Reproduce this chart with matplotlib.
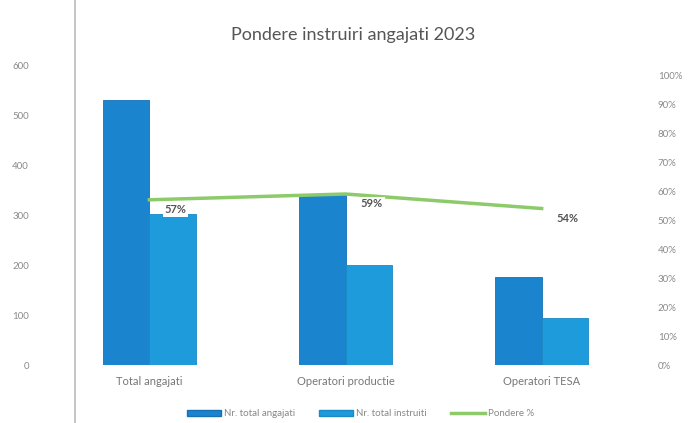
import matplotlib
matplotlib.use("Agg")
import matplotlib.pyplot as plt
from matplotlib.patches import Patch
from matplotlib.lines import Line2D

categories = ["Total angajati", "Operatori productie", "Operatori TESA"]
total_angajati = [530, 340, 176]
total_instruiti = [302, 200, 95]
pondere = [0.57, 0.59, 0.54]
pondere_labels = ["57%", "59%", "54%"]
left_ticks = [0, 100, 200, 300, 400, 500, 600]
right_ticks = [0.0, 0.1, 0.2, 0.3, 0.4, 0.5, 0.6, 0.7, 0.8, 0.9, 1.0]
right_tick_labels = ["0%", "10%", "20%", "30%", "40%", "50%", "60%", "70%", "80%", "90%", "100%"]

plt.rcParams['font.family'] = ['Lato', 'DejaVu Sans']

c1 = "#1a84cf"
c2 = "#1d9bdb"
cl = "#8dca6a"
tc = "#8a8a8a"

fig = plt.figure(figsize=(6.93, 4.23), dpi=100)
fig.add_artist(Line2D([0.108, 0.108], [0, 1], transform=fig.transFigure, color="#bbbbbb", linewidth=1.2))
ax = fig.add_axes([0.108, 0.137, 0.801, 0.709])
x = list(range(len(categories)))
w = 0.238
ax.bar([i - w / 2 for i in x], total_angajati, width=w, color=c1, edgecolor="#1670b5", linewidth=0.6, zorder=2)
ax.bar([i + w / 2 for i in x], total_instruiti, width=w, color=c2, edgecolor="#1a8ac4", linewidth=0.6, zorder=2)
ax.set_xlim(-0.38, 2.45)
ax.set_ylim(0, 600)
ax.set_yticks(left_ticks)
ax.set_yticklabels([str(t) for t in left_ticks], fontsize=7, color=tc)
ax.set_xticks(x)
ax.set_xticklabels(categories, fontsize=8, color="#777777")
ax.tick_params(axis='both', length=0)
ax.tick_params(axis='y', pad=33)
ax.tick_params(axis='x', pad=8)
for s in ax.spines.values():
    s.set_visible(False)

ax2 = ax.twinx()
ax2.plot(x, pondere, color=cl, linewidth=2.5, zorder=3)
ax2.set_ylim(0, 1.0345)
ax2.set_yticks(right_ticks)
ax2.set_yticklabels(right_tick_labels, fontsize=7, color=tc)
ax2.tick_params(axis='y', length=0, pad=20)
for s in ax2.spines.values():
    s.set_visible(False)
for i, (p, lab) in enumerate(zip(pondere, pondere_labels)):
    ax2.annotate(lab, (x[i], p), xytext=(11, -7), textcoords="offset points",
                 ha="left", va="center", fontsize=8, fontweight="bold", color="#555555",
                 bbox=dict(boxstyle="square,pad=0.15", fc="white", ec="none"), zorder=4)

fig.suptitle("Pondere instruiri angajati 2023", x=0.51, y=0.935, fontsize=13, color="#555555")

handles = [Patch(facecolor=c1, edgecolor="#1670b5"), Patch(facecolor=c2, edgecolor="#1a8ac4"),
           Line2D([0], [0], color=cl, linewidth=2.5)]
fig.legend(handles, ["Nr. total angajati", "Nr. total instruiti", "Pondere %"],
           loc="lower center", bbox_to_anchor=(0.52, -0.01), ncol=3, frameon=False,
           fontsize=7, labelcolor="#888888", handlelength=3.5, handleheight=0.6,
           columnspacing=2.5, handletextpad=0.3)

fig.savefig("out.png", dpi=100)
